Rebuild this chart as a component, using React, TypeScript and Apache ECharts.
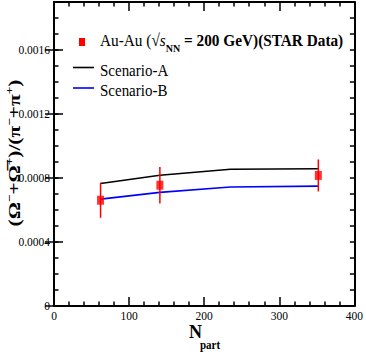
import React, { useEffect, useRef } from "react";
import * as echarts from "echarts";

// Data
const nPartData = [62, 141, 352];
const ratioData = [0.000661, 0.000755, 0.000816];
const ratioErr = [0.00011, 0.000114, 0.0001];

const nPartModel = [62, 141, 235, 352];
const scenarioA = [0.000766, 0.000817, 0.000855, 0.000858];
const scenarioB = [0.000668, 0.00071, 0.000744, 0.000749];

const yMajorTicks = [0, 0.0004, 0.0008, 0.0012, 0.0016];
const xMajorTicks = [0, 100, 200, 300, 400];

const legendLabels = ["Scenario-A", "Scenario-B"];

const SERIF = "Liberation Serif";

export default function App() {
  const ref = useRef<HTMLDivElement>(null);

  useEffect(() => {
    if (!ref.current) return;
    const chart = echarts.init(ref.current, null, { renderer: "svg" });

    const axisLineStyle = { color: "#000", width: 2 };
    const tickStyle = { color: "#000", width: 1.5 };

    const yLabelFmt = (v: number) => {
      const k = Math.round(v * 10000);
      if (k % 4 !== 0) return "";
      return k === 0 ? "0" : (k / 10000).toFixed(4);
    };

    const yBase = {
      type: "value",
      min: 0,
      max: 0.0019,
      splitLine: { show: false },
    };

    const option: any = {
      animation: false,
      textStyle: { fontFamily: SERIF },
      grid: { left: 54, right: 11, top: 2, bottom: 48, containLabel: false },
      xAxis: [
        {
          type: "value",
          position: "bottom",
          min: xMajorTicks[0],
          max: xMajorTicks[xMajorTicks.length - 1],
          interval: 100,
          axisLine: { show: true, onZero: false, lineStyle: axisLineStyle },
          axisTick: { show: true, inside: true, length: 9, lineStyle: tickStyle },
          minorTick: { show: true, splitNumber: 5, length: 4.5, lineStyle: tickStyle },
          axisLabel: {
            color: "#000",
            fontFamily: SERIF,
            fontSize: 11.5,
            margin: 4,
          },
          splitLine: { show: false },
        },
        {
          type: "value",
          position: "top",
          min: xMajorTicks[0],
          max: xMajorTicks[xMajorTicks.length - 1],
          interval: 100,
          axisLine: { show: true, onZero: false, lineStyle: axisLineStyle },
          axisTick: { show: true, inside: true, length: 9, lineStyle: tickStyle },
          minorTick: { show: true, splitNumber: 5, length: 4.5, lineStyle: tickStyle },
          axisLabel: { show: false },
          splitLine: { show: false },
        },
      ],
      yAxis: [
        {
          ...yBase,
          position: "left",
          interval: 0.0001,
          axisLine: { show: true, onZero: false, lineStyle: axisLineStyle },
          axisTick: { show: true, inside: true, length: 4.5, lineStyle: tickStyle },
          axisLabel: {
            color: "#000",
            fontFamily: SERIF,
            fontSize: 11.5,
            margin: 4,
            formatter: yLabelFmt,
          },
        },
        {
          ...yBase,
          position: "left",
          interval: 0.0004,
          axisLine: { show: false },
          axisTick: {
            show: true,
            inside: true,
            length: 9,
            lineStyle: tickStyle,
            customValues: yMajorTicks,
          },
          axisLabel: { show: false },
        },
        {
          ...yBase,
          position: "right",
          interval: 0.0001,
          axisLine: { show: true, onZero: false, lineStyle: axisLineStyle },
          axisTick: { show: true, inside: true, length: 4.5, lineStyle: tickStyle },
          axisLabel: { show: false },
        },
        {
          ...yBase,
          position: "right",
          interval: 0.0004,
          axisLine: { show: false },
          axisTick: {
            show: true,
            inside: true,
            length: 9,
            lineStyle: tickStyle,
            customValues: yMajorTicks,
          },
          axisLabel: { show: false },
        },
      ],
      series: [
        {
          name: legendLabels[0],
          type: "line",
          xAxisIndex: 0,
          yAxisIndex: 0,
          data: nPartModel.map((x, i) => [x, scenarioA[i]]),
          showSymbol: false,
          symbol: "none",
          lineStyle: { color: "#000", width: 1.6 },
          z: 2,
        },
        {
          name: legendLabels[1],
          type: "line",
          xAxisIndex: 0,
          yAxisIndex: 0,
          data: nPartModel.map((x, i) => [x, scenarioB[i]]),
          showSymbol: false,
          symbol: "none",
          lineStyle: { color: "#0000ff", width: 1.6 },
          z: 2,
        },
        {
          type: "custom",
          xAxisIndex: 0,
          yAxisIndex: 0,
          data: nPartData.map((x, i) => [x, ratioData[i] - ratioErr[i], ratioData[i] + ratioErr[i]]),
          encode: { x: 0, y: [1, 2] },
          renderItem: (_params: any, api: any) => {
            const lo = api.coord([api.value(0), api.value(1)]);
            const hi = api.coord([api.value(0), api.value(2)]);
            return {
              type: "line",
              shape: { x1: lo[0], y1: lo[1], x2: hi[0], y2: hi[1] },
              style: { stroke: "#ff0000", lineWidth: 1.5 },
            };
          },
          z: 3,
        },
        {
          type: "scatter",
          xAxisIndex: 0,
          yAxisIndex: 0,
          data: nPartData.map((x, i) => [x, ratioData[i]]),
          symbol: "rect",
          symbolSize: [7, 9],
          itemStyle: { color: "#ff0000" },
          z: 4,
        },
      ],
      graphic: [
        {
          type: "rect",
          shape: { x: 79, y: 38, width: 6, height: 8 },
          style: { fill: "#ff0000" },
        },
        {
          type: "text",
          x: 100,
          y: 41,
          scaleY: 1.12,
          style: {
            text: "{n|Au-Au (√}{i|s}{sub|NN}{b| = 200 GeV)(STAR Data)}",
            verticalAlign: "middle",
            align: "left",
            fill: "#000",
            fontFamily: SERIF,
            fontSize: 15.3,
            rich: {
              n: { fontFamily: SERIF, fontSize: 15.3, fill: "#000" },
              i: { fontFamily: SERIF, fontSize: 15.3, fontStyle: "italic", fill: "#000" },
              sub: {
                fontFamily: SERIF,
                fontSize: 10,
                fontWeight: "bold",
                padding: [13, 0, 0, 0],
                fill: "#000",
              },
              b: { fontFamily: SERIF, fontSize: 15.3, fontWeight: "bold", fill: "#000" },
            },
          },
        },
        {
          type: "line",
          shape: { x1: 73, y1: 67.5, x2: 94, y2: 67.5 },
          style: { stroke: "#000", lineWidth: 1.6 },
        },
        {
          type: "text",
          x: 100,
          y: 70,
          scaleY: 1.12,
          style: {
            text: legendLabels[0],
            fontFamily: SERIF,
            fontSize: 15,
            fill: "#000",
            verticalAlign: "middle",
            align: "left",
          },
        },
        {
          type: "line",
          shape: { x1: 73, y1: 88, x2: 94, y2: 88 },
          style: { stroke: "#0000ff", lineWidth: 1.6 },
        },
        {
          type: "text",
          x: 100,
          y: 90.5,
          scaleY: 1.12,
          style: {
            text: legendLabels[1],
            fontFamily: SERIF,
            fontSize: 15,
            fill: "#000",
            verticalAlign: "middle",
            align: "left",
          },
        },
        // x axis title
        {
          type: "text",
          x: 189,
          y: 331,
          scaleY: 1.1,
          style: {
            text: "N",
            fontFamily: SERIF,
            fontSize: 18,
            fontWeight: "bold",
            fill: "#000",
            verticalAlign: "middle",
            align: "left",
          },
        },
        {
          type: "text",
          x: 200,
          y: 345,
          scaleY: 1.1,
          style: {
            text: "part",
            fontFamily: SERIF,
            fontSize: 11,
            fontWeight: "bold",
            fill: "#000",
            verticalAlign: "middle",
            align: "left",
          },
        },
        // y axis title
        {
          type: "text",
          x: 14,
          y: 153,
          rotation: Math.PI / 2,
          scaleX: 1.22,
          style: {
            text: "{m|(Ω}{sup|−}{m|+Ω\u0305}{sup|+}{m|)/(π}{sup|−}{m|+π}{sup|+}{m|)}",
            align: "center",
            verticalAlign: "middle",
            fill: "#000",
            fontFamily: SERIF,
            fontSize: 17.5,
            fontWeight: "bold",
            rich: {
              m: { fontFamily: SERIF, fontSize: 17.5, fontWeight: "bold", fill: "#000" },
              sup: {
                fontFamily: SERIF,
                fontSize: 11,
                fontWeight: "bold",
                padding: [0, 0, 10, 0],
                fill: "#000",
              },
            },
          },
        },
      ],
    };

    chart.setOption(option);
    return () => chart.dispose();
  }, []);

  return (
    <div
      ref={ref}
      style={{ position: "fixed", left: 0, top: 0, width: 366, height: 354, background: "#fff" }}
    />
  );
}
